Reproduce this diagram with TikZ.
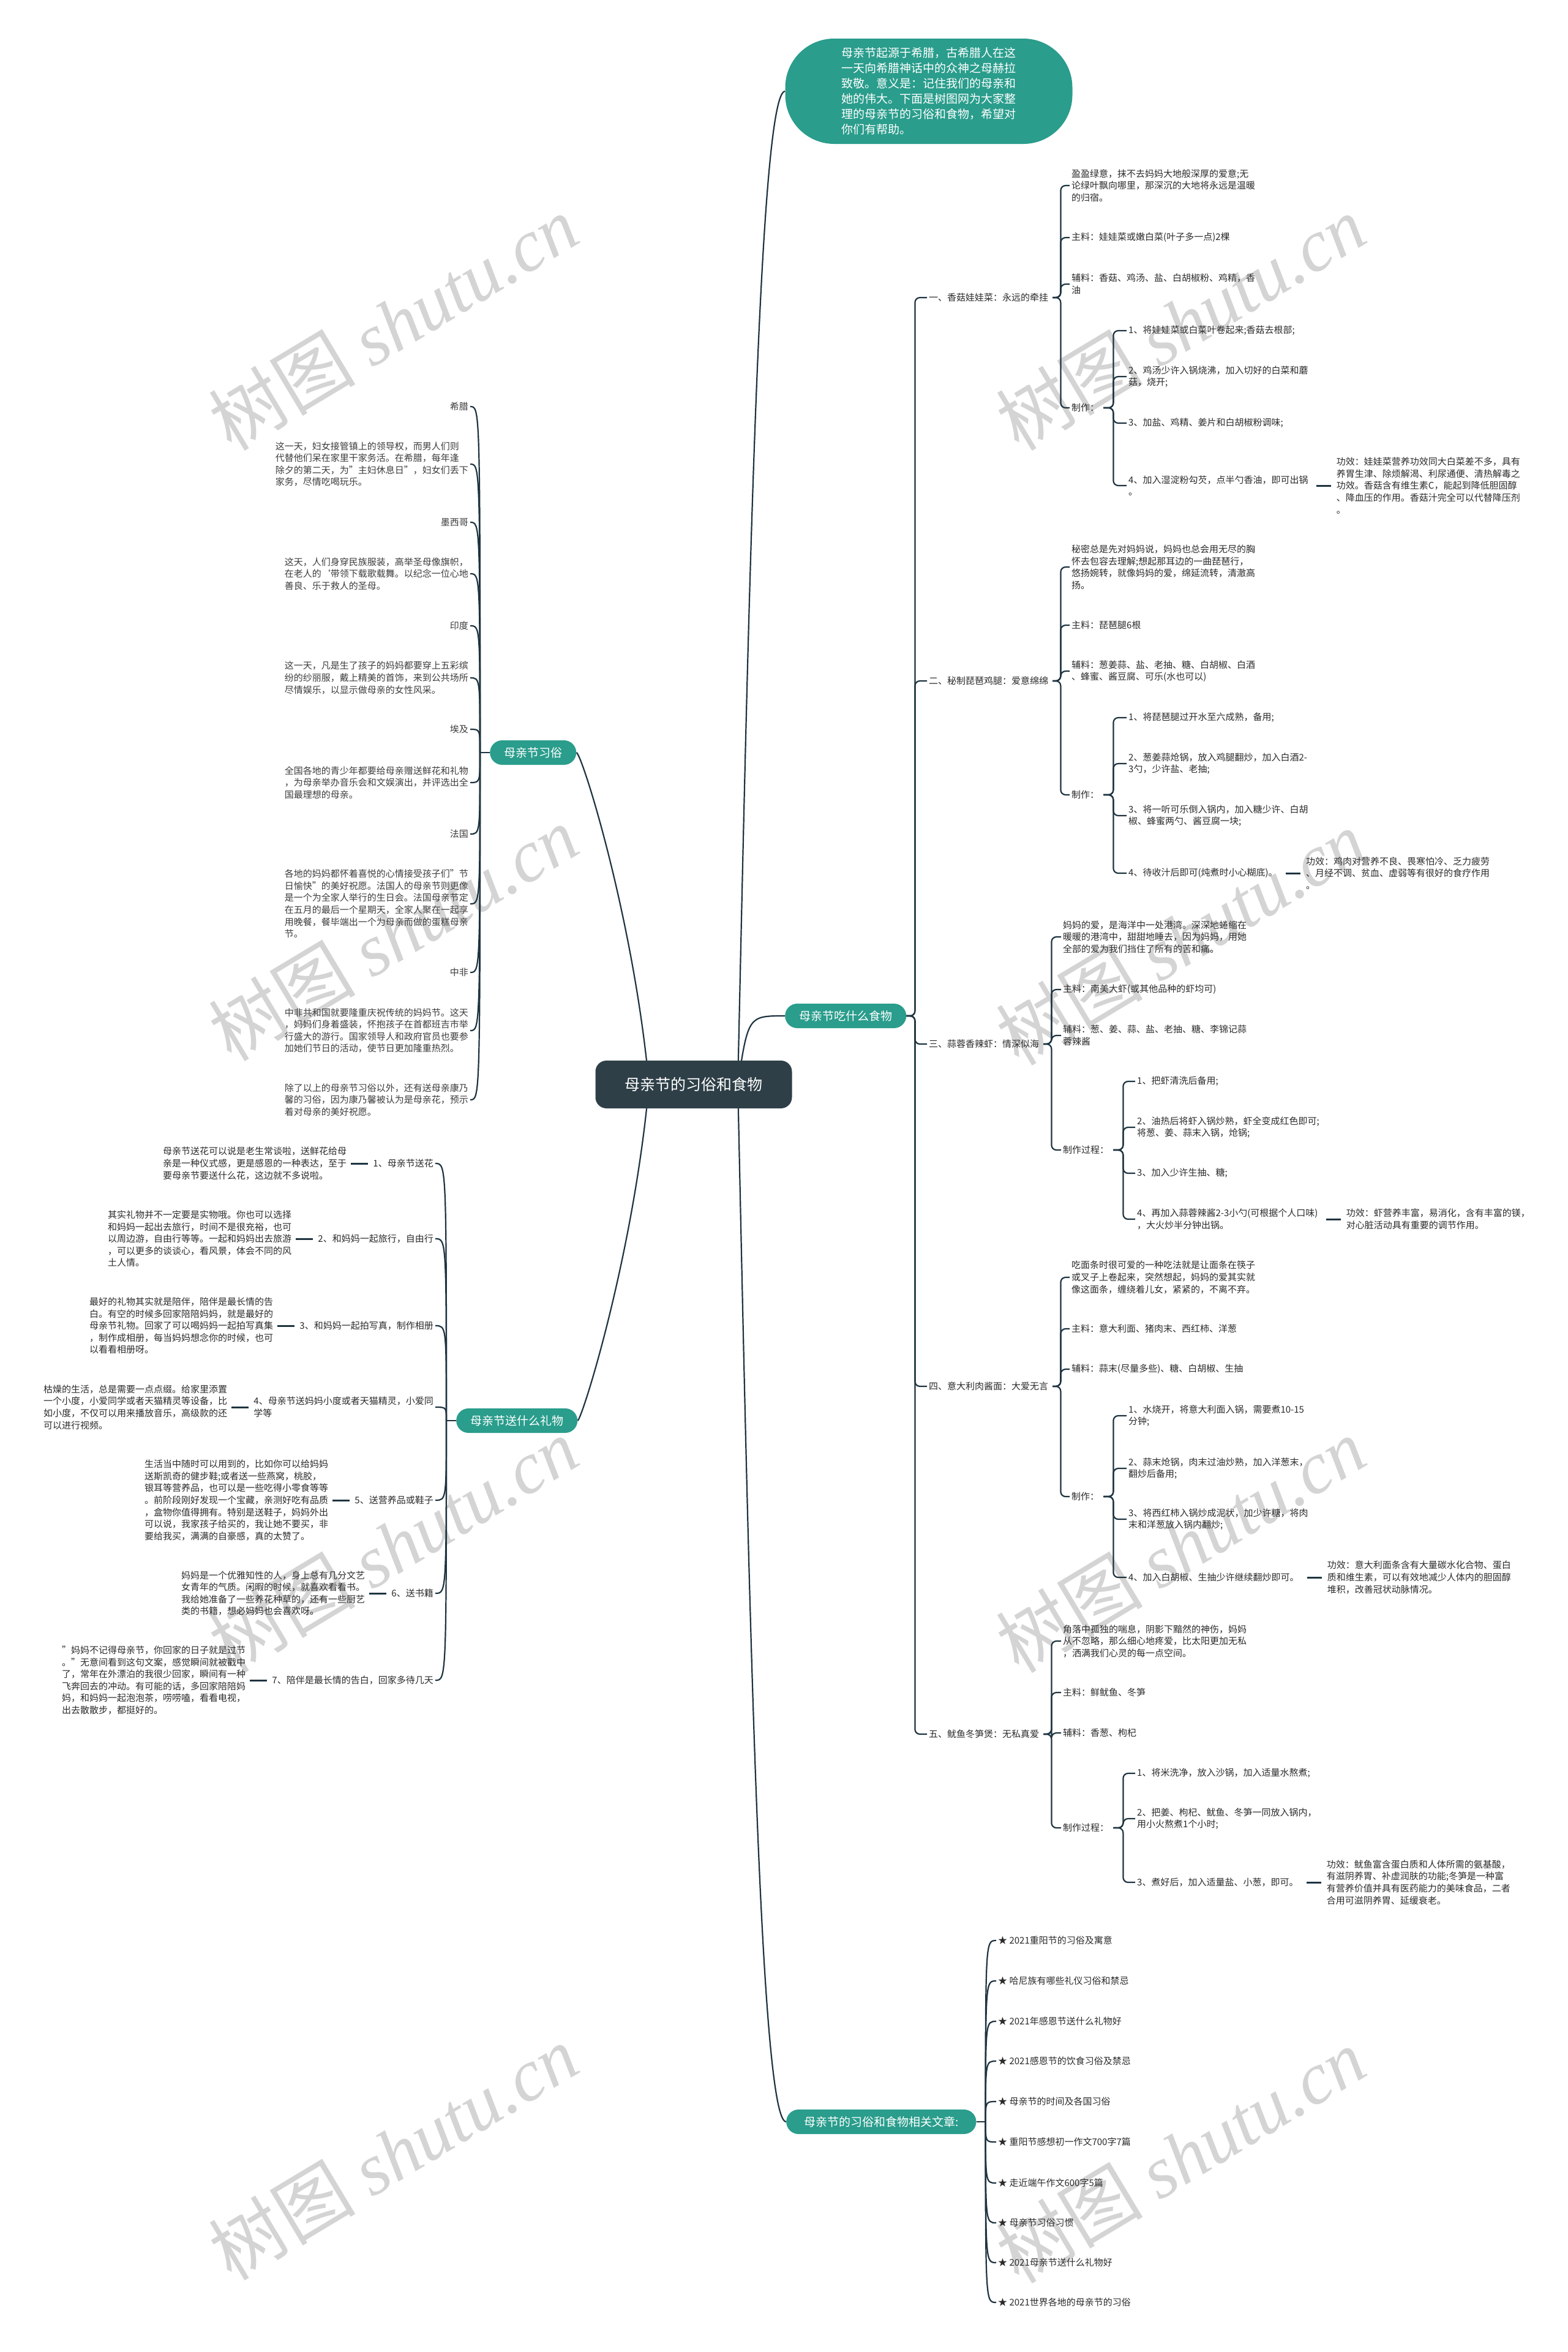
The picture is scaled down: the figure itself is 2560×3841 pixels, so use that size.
\documentclass[tikz,border=0pt]{standalone}
\usepackage{fontspec}
\setmainfont{Noto Sans CJK SC}
\newfontfamily\wmserif{Liberation Serif}
\usetikzlibrary{positioning}
\usetikzlibrary{backgrounds}
\definecolor{mmteal}{HTML}{2A9D8C}
\definecolor{mmhub}{HTML}{2E3F47}
\definecolor{mmline}{HTML}{1E3440}
\definecolor{mmtext}{HTML}{2B2B2B}
\definecolor{mmgrey}{HTML}{3C3C3C}
\definecolor{mmwm}{HTML}{D4D4D4}

\begin{document}
\begin{tikzpicture}[x=1pt,y=-1pt,
	txt/.style={font=\fontsize{15}{19.6}\selectfont,text=mmtext,align=left,inner sep=3pt},
	leaf/.style={txt,anchor=west},
	leafl/.style={txt,anchor=east},
	lore/.style={leafl,text=mmgrey},
	topic/.style={fill=mmteal,text=white,font=\fontsize{19}{24}\selectfont,rounded corners=20pt,minimum height=40pt,inner xsep=23pt,inner ysep=0pt},
	hub/.style={fill=mmhub,text=white,font=\fontsize{25}{30}\selectfont,rounded corners=18pt,minimum width=321pt,minimum height=78pt},
	intro/.style={fill=mmteal,text=white,font=\fontsize{19}{25}\selectfont,align=left,rounded corners=80pt,minimum width=469pt,minimum height=172pt},
	link/.style={draw=mmline,line width=2.2pt},
	bracket/.style={link,rounded corners=8pt},
	tie/.style={draw=mmline,line width=3pt},
	wmark/.style={text=mmwm,rotate=31,font=\fontsize{120}{120}\selectfont}
	]
	\begin{pgfonlayer}{background}
		\fill[white] (0,0) rectangle (2560,3841);
		\node[wmark] (w1) at (642,527) {树图 {\wmserif\itshape shutu.cn}};
		\node[wmark] (w2) at (1928,527) {树图 {\wmserif\itshape shutu.cn}};
		\node[wmark] (w3) at (642,1524) {树图 {\wmserif\itshape shutu.cn}};
		\node[wmark] (w4) at (1928,1531) {树图 {\wmserif\itshape shutu.cn}};
		\node[wmark] (w5) at (642,2523) {树图 {\wmserif\itshape shutu.cn}};
		\node[wmark] (w6) at (1928,2523) {树图 {\wmserif\itshape shutu.cn}};
		\node[wmark] (w7) at (642,3515) {树图 {\wmserif\itshape shutu.cn}};
		\node[wmark] (w8) at (1928,3520) {树图 {\wmserif\itshape shutu.cn}};
	\end{pgfonlayer}
	\useasboundingbox (0,0) rectangle (2560,3841);
	%%%%%%%%%%%%%%%
	\node[hub] (hub) at (1133,1771) {母亲节的习俗和食物};
	\node[intro] (intro) at (1517,149) {母亲节起源于希腊，古希腊人在这\\一天向希腊神话中的众神之母赫拉\\致敬。意义是：记住我们的母亲和\\她的伟大。下面是树图网为大家整\\理的母亲节的习俗和食物，希望对\\你们有帮助。};
	\node[topic,anchor=west] (food) at (1282,1659) {母亲节吃什么食物};
	\node[topic,anchor=west,inner xsep=29pt] (rel) at (1284,3465) {母亲节的习俗和食物相关文章:};
	\node[topic,anchor=west] (xisu) at (800,1229) {母亲节习俗};
	\node[topic,anchor=west] (gift) at (745,2320) {母亲节送什么礼物};
	%%%%%%%%%%%%%%%
	\node[leaf] (r1) at (1514,486) {一、香菇娃娃菜：永远的牵挂};
	\node[leaf] (r2) at (1514,1112) {二、秘制琵琶鸡腿：爱意绵绵};
	\node[leaf] (r3) at (1514,1705) {三、蒜蓉香辣虾：情深似海};
	\node[leaf] (r4) at (1514,2264) {四、意大利肉酱面：大爱无言};
	\node[leaf] (r5) at (1514,2832) {五、鱿鱼冬笋煲：无私真爱};
	%%%%%%%%%%%%%%%
	\node[leaf] (r1a) at (1747,303) {盈盈绿意，抹不去妈妈大地般深厚的爱意;无\\论绿叶飘向哪里，那深沉的大地将永远是温暖\\的归宿。};
	\node[leaf] (r1b) at (1747,388) {主料：娃娃菜或嫩白菜(叶子多一点)2棵};
	\node[leaf] (r1c) at (1747,464) {辅料：香菇、鸡汤、盐、白胡椒粉、鸡精，香\\油};
	\node[leaf] (r1d) at (1747,666) {制作：};
	\node[leaf] (r1s1) at (1840,540) {1、将娃娃菜或白菜叶卷起来;香菇去根部;};
	\node[leaf] (r1s2) at (1840,615) {2、鸡汤少许入锅烧沸，加入切好的白菜和蘑\\菇，烧开;};
	\node[leaf] (r1s3) at (1840,691) {3、加盐、鸡精、姜片和白胡椒粉调味;};
	\node[leaf] (r1s4) at (1840,793) {4、加入湿淀粉勾芡，点半勺香油，即可出锅\\。};
	\node[leaf,right=40pt of r1s4] (r1e) {功效：娃娃菜营养功效同大白菜差不多，具有\\养胃生津、除烦解渴、利尿通便、清热解毒之\\功效。香菇含有维生素C，能起到降低胆固醇\\、降血压的作用。香菇汁完全可以代替降压剂\\。};
	%%%%%%%%%%%%%%%
	\node[leaf] (r2a) at (1747,926) {秘密总是先对妈妈说，妈妈也总会用无尽的胸\\怀去包容去理解;想起那耳边的一曲琵琶行，\\悠扬婉转，就像妈妈的爱，绵延流转，清澈高\\扬。};
	\node[leaf] (r2b) at (1747,1021) {主料：琵琶腿6根};
	\node[leaf] (r2c) at (1747,1096) {辅料：葱姜蒜、盐、老抽、糖、白胡椒、白酒\\、蜂蜜、酱豆腐、可乐(水也可以)};
	\node[leaf] (r2d) at (1747,1298) {制作：};
	\node[leaf] (r2s1) at (1840,1172) {1、将琵琶腿过开水至六成熟，备用;};
	\node[leaf] (r2s2) at (1840,1247) {2、葱姜蒜炝锅，放入鸡腿翻炒，加入白酒2-\\3勺，少许盐、老抽;};
	\node[leaf] (r2s3) at (1840,1332) {3、将一听可乐倒入锅内，加入糖少许、白胡\\椒、蜂蜜两勺、酱豆腐一块;};
	\node[leaf] (r2s4) at (1840,1426) {4、待收汁后即可(炖煮时小心糊底)。};
	\node[leaf,right=40pt of r2s4] (r2e) {功效：鸡肉对营养不良、畏寒怕冷、乏力疲劳\\、月经不调、贫血、虚弱等有很好的食疗作用\\。};
	%%%%%%%%%%%%%%%
	\node[leaf] (r3a) at (1733,1530) {妈妈的爱，是海洋中一处港湾。深深地蜷缩在\\暖暖的港湾中，甜甜地睡去，因为妈妈，用她\\全部的爱为我们挡住了所有的苦和痛。};
	\node[leaf] (r3b) at (1733,1616) {主料：南美大虾(或其他品种的虾均可)};
	\node[leaf] (r3c) at (1733,1691) {辅料：葱、姜、蒜、盐、老抽、糖、李锦记蒜\\蓉辣酱};
	\node[leaf] (r3d) at (1733,1878) {制作过程：};
	\node[leaf] (r3s1) at (1854,1766) {1、把虾清洗后备用;};
	\node[leaf] (r3s2) at (1854,1841) {2、油热后将虾入锅炒熟，虾全变成红色即可;\\将葱、姜、蒜末入锅，炝锅;};
	\node[leaf] (r3s3) at (1854,1916) {3、加入少许生抽、糖;};
	\node[leaf] (r3s4) at (1854,1991) {4、再加入蒜蓉辣酱2-3小勺(可根据个人口味)\\，大火炒半分钟出锅。};
	\node[leaf,right=40pt of r3s4] (r3e) {功效：虾营养丰富，易消化，含有丰富的镁，\\对心脏活动具有重要的调节作用。};
	%%%%%%%%%%%%%%%
	\node[leaf] (r4a) at (1747,2086) {吃面条时很可爱的一种吃法就是让面条在筷子\\或叉子上卷起来，突然想起，妈妈的爱其实就\\像这面条，缠绕着儿女，紧紧的，不离不弃。};
	\node[leaf] (r4b) at (1747,2170) {主料：意大利面、猪肉末、西红柿、洋葱};
	\node[leaf] (r4c) at (1747,2236) {辅料：蒜末(尽量多些)、糖、白胡椒、生抽};
	\node[leaf] (r4d) at (1747,2444) {制作：};
	\node[leaf] (r4s1) at (1840,2312) {1、水烧开，将意大利面入锅，需要煮10-15\\分钟;};
	\node[leaf] (r4s2) at (1840,2398) {2、蒜末炝锅，肉末过油炒熟，加入洋葱末，\\翻炒后备用;};
	\node[leaf] (r4s3) at (1840,2481) {3、将西红柿入锅炒成泥状，加少许糖，将肉\\末和洋葱放入锅内翻炒;};
	\node[leaf] (r4s4) at (1840,2576) {4、加入白胡椒、生抽少许继续翻炒即可。};
	\node[leaf,right=40pt of r4s4] (r4e) {功效：意大利面条含有大量碳水化合物、蛋白\\质和维生素，可以有效地减少人体内的胆固醇\\堆积，改善冠状动脉情况。};
	%%%%%%%%%%%%%%%
	\node[leaf] (r5a) at (1733,2680) {角落中孤独的喘息，阴影下黯然的神伤，妈妈\\从不忽略，那么细心地疼爱，比太阳更加无私\\，洒满我们心灵的每一点空间。};
	\node[leaf] (r5b) at (1733,2764) {主料：鲜鱿鱼、冬笋};
	\node[leaf] (r5c) at (1733,2830) {辅料：香葱、枸杞};
	\node[leaf] (r5d) at (1733,2985) {制作过程：};
	\node[leaf] (r5s1) at (1854,2896) {1、将米洗净，放入沙锅，加入适量水熬煮;};
	\node[leaf] (r5s2) at (1854,2970) {2、把姜、枸杞、鱿鱼、冬笋一同放入锅内，\\用小火熬煮1个小时;};
	\node[leaf] (r5s3) at (1854,3074) {3、煮好后，加入适量盐、小葱，即可。};
	\node[leaf,right=40pt of r5s3] (r5e) {功效：鱿鱼富含蛋白质和人体所需的氨基酸，\\有滋阴养胃、补虚润肤的功能;冬笋是一种富\\有营养价值并具有医药能力的美味食品，二者\\合用可滋阴养胃、延缓衰老。};
	%%%%%%%%%%%%%%%
	\node[leaf] (a1) at (1627,3169) {★ 2021重阳节的习俗及寓意};
	\node[leaf] (a2) at (1627,3235) {★ 哈尼族有哪些礼仪习俗和禁忌};
	\node[leaf] (a3) at (1627,3301) {★ 2021年感恩节送什么礼物好};
	\node[leaf] (a4) at (1627,3366) {★ 2021感恩节的饮食习俗及禁忌};
	\node[leaf] (a5) at (1627,3432) {★ 母亲节的时间及各国习俗};
	\node[leaf] (a6) at (1627,3498) {★ 重阳节感想初一作文700字7篇};
	\node[leaf] (a7) at (1627,3565) {★ 走近端午作文600字5篇};
	\node[leaf] (a8) at (1627,3630) {★ 母亲节习俗习惯};
	\node[leaf] (a9) at (1627,3695) {★ 2021母亲节送什么礼物好};
	\node[leaf] (a10) at (1627,3760) {★ 2021世界各地的母亲节的习俗};
	%%%%%%%%%%%%%%%
	\node[lore] (x1) at (768,664) {希腊};
	\node[lore] (x2) at (768,758) {这一天，妇女接管镇上的领导权，而男人们则\\代替他们呆在家里干家务活。在希腊，每年逢\\除夕的第二天，为"主妇休息日"，妇女们丢下\\家务，尽情吃喝玩乐。};
	\node[lore] (x3) at (768,853) {墨西哥};
	\node[lore] (x4) at (768,937) {这天，人们身穿民族服装，高举圣母像旗帜，\\在老人的`带领下载歌载舞。以纪念一位心地\\善良、乐于救人的圣母。};
	\node[lore] (x5) at (768,1022) {印度};
	\node[lore] (x6) at (768,1107) {这一天，凡是生了孩子的妈妈都要穿上五彩缤\\纷的纱丽服，戴上精美的首饰，来到公共场所\\尽情娱乐，以显示做母亲的女性风采。};
	\node[lore] (x7) at (768,1191) {埃及};
	\node[lore] (x8) at (768,1278) {全国各地的青少年都要给母亲赠送鲜花和礼物\\，为母亲举办音乐会和文娱演出，并评选出全\\国最理想的母亲。};
	\node[lore] (x9) at (768,1362) {法国};
	\node[lore] (x10) at (768,1476) {各地的妈妈都怀着喜悦的心情接受孩子们"节\\日愉快"的美好祝愿。法国人的母亲节则更像\\是一个为全家人举行的生日会。法国母亲节定\\在五月的最后一个星期天，全家人聚在一起享\\用晚餐，餐毕端出一个为母亲而做的蛋糕母亲\\节。};
	\node[lore] (x11) at (768,1588) {中非};
	\node[lore] (x12) at (768,1683) {中非共和国就要隆重庆祝传统的妈妈节。这天\\，妈妈们身着盛装，怀抱孩子在首都班吉市举\\行盛大的游行。国家领导人和政府官员也要参\\加她们节日的活动，使节日更加隆重热烈。};
	\node[lore] (x13) at (768,1796) {除了以上的母亲节习俗以外，还有送母亲康乃\\馨的习俗，因为康乃馨被认为是母亲花，预示\\着对母亲的美好祝愿。};
	%%%%%%%%%%%%%%%
	\node[leafl] (g1) at (711,1900) {1、母亲节送花};
	\node[leafl] (g2) at (711,2023) {2、和妈妈一起旅行，自由行};
	\node[leafl] (g3) at (711,2165) {3、和妈妈一起拍写真，制作相册};
	\node[leafl] (g4) at (711,2298) {4、母亲节送妈妈小度或者天猫精灵，小爱同\\学等};
	\node[leafl] (g5) at (711,2450) {5、送营养品或鞋子};
	\node[leafl] (g6) at (711,2602) {6、送书籍};
	\node[leafl] (g7) at (711,2744) {7、陪伴是最长情的告白，回家多待几天};
	\node[leafl,left=37pt of g1] (gd1) {母亲节送花可以说是老生常谈啦，送鲜花给母\\亲是一种仪式感，更是感恩的一种表达，至于\\要母亲节要送什么花，这边就不多说啦。};
	\node[leafl,left=37pt of g2] (gd2) {其实礼物并不一定要是实物哦。你也可以选择\\和妈妈一起出去旅行，时间不是很充裕，也可\\以周边游，自由行等等。一起和妈妈出去旅游\\，可以更多的谈谈心，看风景，体会不同的风\\土人情。};
	\node[leafl,left=37pt of g3] (gd3) {最好的礼物其实就是陪伴，陪伴是最长情的告\\白。有空的时候多回家陪陪妈妈，就是最好的\\母亲节礼物。回家了可以喝妈妈一起拍写真集\\，制作成相册，每当妈妈想念你的时候，也可\\以看看相册呀。};
	\node[leafl,left=37pt of g4] (gd4) {枯燥的生活，总是需要一点点缀。给家里添置\\一个小度，小爱同学或者天猫精灵等设备，比\\如小度，不仅可以用来播放音乐，高级款的还\\可以进行视频。};
	\node[leafl,left=37pt of g5] (gd5) {生活当中随时可以用到的，比如你可以给妈妈\\送斯凯奇的健步鞋;或者送一些燕窝，桃胶，\\银耳等营养品，也可以是一些吃得小零食等等\\。前阶段刚好发现一个宝藏，亲测好吃有品质\\，盒物你值得拥有。特别是送鞋子，妈妈外出\\可以说，我家孩子给买的，我让她不要买，非\\要给我买，满满的自豪感，真的太赞了。};
	\node[leafl,left=37pt of g6] (gd6) {妈妈是一个优雅知性的人，身上总有几分文艺\\女青年的气质。闲暇的时候，就喜欢看看书。\\我给她准备了一些养花种草的，还有一些厨艺\\类的书籍，想必妈妈也会喜欢呀。};
	\node[leafl,left=37pt of g7] (gd7) {"妈妈不记得母亲节，你回家的日子就是过节\\。"无意间看到这句文案，感觉瞬间就被戳中\\了，常年在外漂泊的我很少回家，瞬间有一种\\飞奔回去的冲动。有可能的话，多回家陪陪妈\\妈，和妈妈一起泡泡茶，唠唠嗑，看看电视，\\出去散散步，都挺好的。};
	%%%%%%%%%%%%%%%
	\begin{pgfonlayer}{background}
		\coordinate (cr) at ([xshift=72pt]hub.center);
		\coordinate (cl) at ([xshift=-73pt]hub.center);
		\draw[link] (cr) .. controls (1222,1000) and (1240,149) .. (intro.west);
		\draw[link] (cr) .. controls (1222,1659) .. (food.west);
		\draw[link] (cr) .. controls (1222,2550) and (1240,3465) .. (rel.west);
		\draw[link] (cl) .. controls (1035,1500) and (950,1229) .. (xisu.east);
		\draw[link] (cl) .. controls (1035,2050) and (950,2320) .. (gift.east);
	\end{pgfonlayer}
	%%%%%%%%%%%%%%%
	\foreach \k in {1,...,5} \draw[bracket] (food.east) -- ++(14,0) |- (r\k.west);
	\foreach \k in {1,...,5} {
		\foreach \c in {a,b,c,d} \draw[bracket,shorten <=4pt] (r\k.east) -- ++(17,0) |- (r\k\c.west);
	}
	\foreach \k/\n in {1/4,2/4,3/4,4/4,5/3} {
		\foreach \i in {1,...,\n} \draw[bracket,shorten <=4pt] (r\k d.east) -- ++(20,0) |- (r\k s\i.west);
	}
	\draw[tie,shorten <=10pt,shorten >=6pt] (r1s4.east) -- (r1e.west);
	\draw[tie,shorten <=10pt,shorten >=6pt] (r2s4.east) -- (r2e.west);
	\draw[tie,shorten <=10pt,shorten >=6pt] (r3s4.east) -- (r3e.west);
	\draw[tie,shorten <=10pt,shorten >=6pt] (r4s4.east) -- (r4e.west);
	\draw[tie,shorten <=10pt,shorten >=6pt] (r5s3.east) -- (r5e.west);
	%%%%%%%%%%%%%%%
	\coordinate (rj) at ([xshift=15pt]rel.east);
	\draw[link] (rel.east) -- (rj);
	\foreach \i in {1,...,10} \draw[link] (rj) .. controls (rj |- a\i.west) .. (a\i.west);
	\coordinate (xj) at ([xshift=-16pt]xisu.west);
	\draw[link] (xisu.west) -- (xj);
	\foreach \i in {1,...,13} \draw[link] (xj) .. controls (xj |- x\i.east) .. (x\i.east);
	\coordinate (gj) at ([xshift=-16pt]gift.west);
	\draw[link] (gift.west) -- (gj);
	\foreach \i in {1,...,7} {
		\draw[link] (gj) .. controls (gj |- g\i.east) .. (g\i.east);
		\draw[tie,shorten <=4pt,shorten >=5pt] (gd\i.east) -- (g\i.west);
	}
\end{tikzpicture}
\end{document}
